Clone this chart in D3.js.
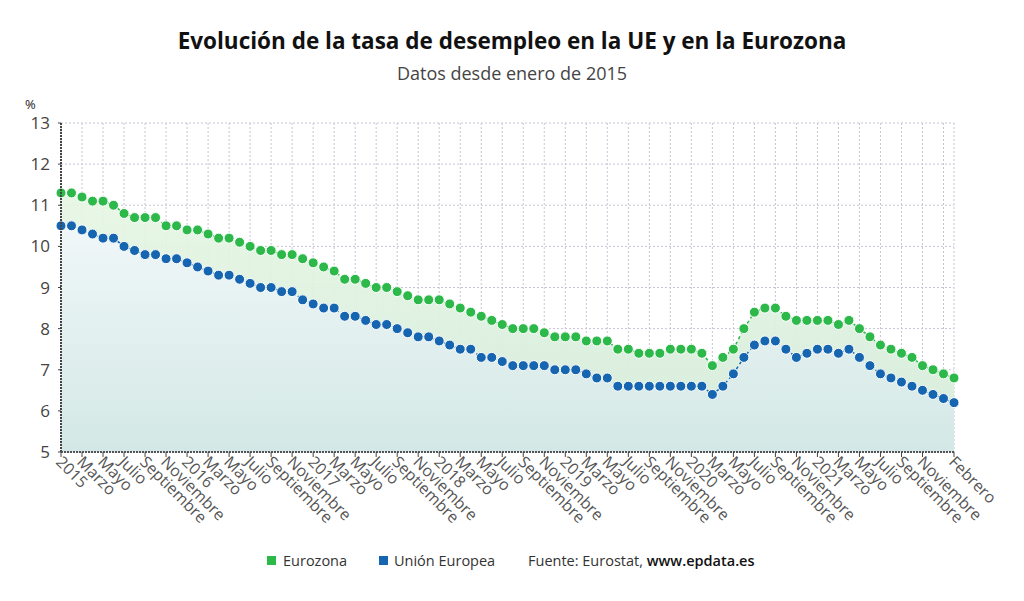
<!DOCTYPE html>
<html><head><meta charset="utf-8">
<script src="https://cdn.jsdelivr.net/npm/d3@7"></script>
<style>body{margin:0;background:#fff;font-family:"Open Sans",sans-serif}</style>
</head><body><svg id="c" width="1024" height="601"></svg>
<script>
const eurozona=[11.3,11.3,11.2,11.1,11.1,11.0,10.8,10.7,10.7,10.7,10.5,10.5,10.4,10.4,10.3,10.2,10.2,10.1,10.0,9.9,9.9,9.8,9.8,9.7,9.6,9.5,9.4,9.2,9.2,9.1,9.0,9.0,8.9,8.8,8.7,8.7,8.7,8.6,8.5,8.4,8.3,8.2,8.1,8.0,
8.0,8.0,7.9,7.8,7.8,7.8,7.7,7.7,7.7,7.5,7.5,7.4,7.4,7.4,7.5,7.5,7.5,7.4,7.1,7.3,7.5,8.0,8.4,8.5,8.5,8.3,8.2,8.2,8.2,8.2,8.1,8.2,8.0,7.8,7.6,7.5,7.4,7.3,7.1,7.0,6.9,6.8];
const ue=[10.5,10.5,10.4,10.3,10.2,10.2,10.0,9.9,9.8,9.8,9.7,9.7,9.6,9.5,9.4,9.3,9.3,9.2,9.1,9.0,9.0,8.9,8.9,8.7,8.6,8.5,8.5,8.3,8.3,8.2,8.1,8.1,8.0,7.9,7.8,7.8,7.7,7.6,7.5,7.5,7.3,7.3,7.2,7.1,
7.1,7.1,7.1,7.0,7.0,7.0,6.9,6.8,6.8,6.6,6.6,6.6,6.6,6.6,6.6,6.6,6.6,6.6,6.4,6.6,6.9,7.3,7.6,7.7,7.7,7.5,7.3,7.4,7.5,7.5,7.4,7.5,7.3,7.1,6.9,6.8,6.7,6.6,6.5,6.4,6.3,6.2];
const meses=["Enero","Febrero","Marzo","Abril","Mayo","Junio","Julio","Agosto","Septiembre","Octubre","Noviembre","Diciembre"];
const yTicks=[5,6,7,8,9,10,11,12,13];
const svg=d3.select("#c");
const x=d3.scaleLinear().domain([0,85]).range([61,954]);
const y=d3.scaleLinear().domain([5,13]).range([452,123]);
const defs=svg.append("defs");
function grad(id,c1,c2,o1,o2){const g=defs.append("linearGradient").attr("id",id).attr("x1",0).attr("y1",0).attr("x2",0).attr("y2",1);
g.append("stop").attr("offset","0%").attr("stop-color",c1).attr("stop-opacity",o1);g.append("stop").attr("offset","100%").attr("stop-color",c2).attr("stop-opacity",o2);}
grad("gG","#e6f6e3","#d6ecdc",0.9,1);grad("gB","#f0f7f8","#d3e8e6",1,1);
const gridC="#c9c3d6";
yTicks.forEach(t=>svg.append("line").attr("x1",61).attr("x2",954).attr("y1",y(t)).attr("y2",y(t)).attr("stroke",gridC).attr("stroke-dasharray","2,2"));
for(let i=0;i<=85;i+=2)svg.append("line").attr("x1",x(i)).attr("x2",x(i)).attr("y1",123).attr("y2",452).attr("stroke",gridC).attr("stroke-dasharray","2,2");
svg.append("line").attr("x1",954).attr("x2",954).attr("y1",123).attr("y2",452).attr("stroke",gridC).attr("stroke-dasharray","2,2");
const idx=d3.range(86);
const area=(arr)=>d3.area().x(i=>x(i)).y0(y(5)).y1(i=>y(arr[i]));
svg.append("path").datum(idx).attr("d",area(eurozona)).attr("fill","url(#gG)");
svg.append("path").datum(idx).attr("d",area(ue)).attr("fill","url(#gB)");
const line=(arr)=>d3.line().x(i=>x(i)).y(i=>y(arr[i]));
[[eurozona,"#2db84a"],[ue,"#1565b0"]].forEach(([arr,c])=>{
 svg.append("path").datum(idx).attr("d",line(arr)).attr("fill","none").attr("stroke",c).attr("stroke-width",1.5).attr("stroke-dasharray","3,3");
 svg.append("g").selectAll("circle").data(idx).join("circle").attr("cx",i=>x(i)).attr("cy",i=>y(arr[i])).attr("r",5).attr("fill",c).attr("stroke","#fff").attr("stroke-width",1);
});
svg.append("line").attr("x1",61).attr("x2",61).attr("y1",123).attr("y2",452).attr("stroke","#444").attr("stroke-width",2).attr("stroke-dasharray","2,1");
svg.append("line").attr("x1",61).attr("x2",954).attr("y1",452).attr("y2",452).attr("stroke","#555").attr("stroke-width",2).attr("stroke-dasharray","2,1");
yTicks.forEach(t=>{svg.append("text").attr("x",50).attr("y",y(t)+6).attr("text-anchor","end").attr("font-size",17).attr("fill","#444").text(t);
 svg.append("line").attr("x1",58).attr("x2",61).attr("y1",y(t)).attr("y2",y(t)).attr("stroke","#444");});
svg.append("text").attr("x",25).attr("y",109).attr("font-size",13).attr("fill","#222").text("%");
const labIdx=d3.range(0,84,2).concat([85]);
labIdx.forEach(i=>{const m=i%12;const lab=m===0?String(2015+i/12):meses[m];
 svg.append("line").attr("x1",x(i)).attr("x2",x(i)).attr("y1",452).attr("y2",457).attr("stroke","#444");
 svg.append("text").attr("transform",`translate(${x(i)-6},${463}) rotate(45)`).attr("font-size",16).attr("fill","#555").text(lab);});
svg.append("text").attr("x",512).attr("y",49).attr("text-anchor","middle").attr("font-size",22.5).attr("font-weight","bold").attr("fill","#111").text("Evolución de la tasa de desempleo en la UE y en la Eurozona");
svg.append("text").attr("x",512).attr("y",80).attr("text-anchor","middle").attr("font-size",18).attr("fill","#444").text("Datos desde enero de 2015");
svg.append("rect").attr("x",267).attr("y",556).attr("width",9).attr("height",9).attr("fill","#2db84a");
svg.append("text").attr("x",283).attr("y",566).attr("font-size",14.5).attr("fill","#333").text("Eurozona");
svg.append("rect").attr("x",379).attr("y",556).attr("width",9).attr("height",9).attr("fill","#1565b0");
svg.append("text").attr("x",394).attr("y",566).attr("font-size",14.5).attr("fill","#333").text("Unión Europea");
const f=svg.append("text").attr("x",528).attr("y",566).attr("font-size",14.5).attr("fill","#333");
f.append("tspan").text("Fuente: Eurostat, ");f.append("tspan").attr("font-weight","600").attr("fill","#111").text("www.epdata.es");
</script></body></html>
